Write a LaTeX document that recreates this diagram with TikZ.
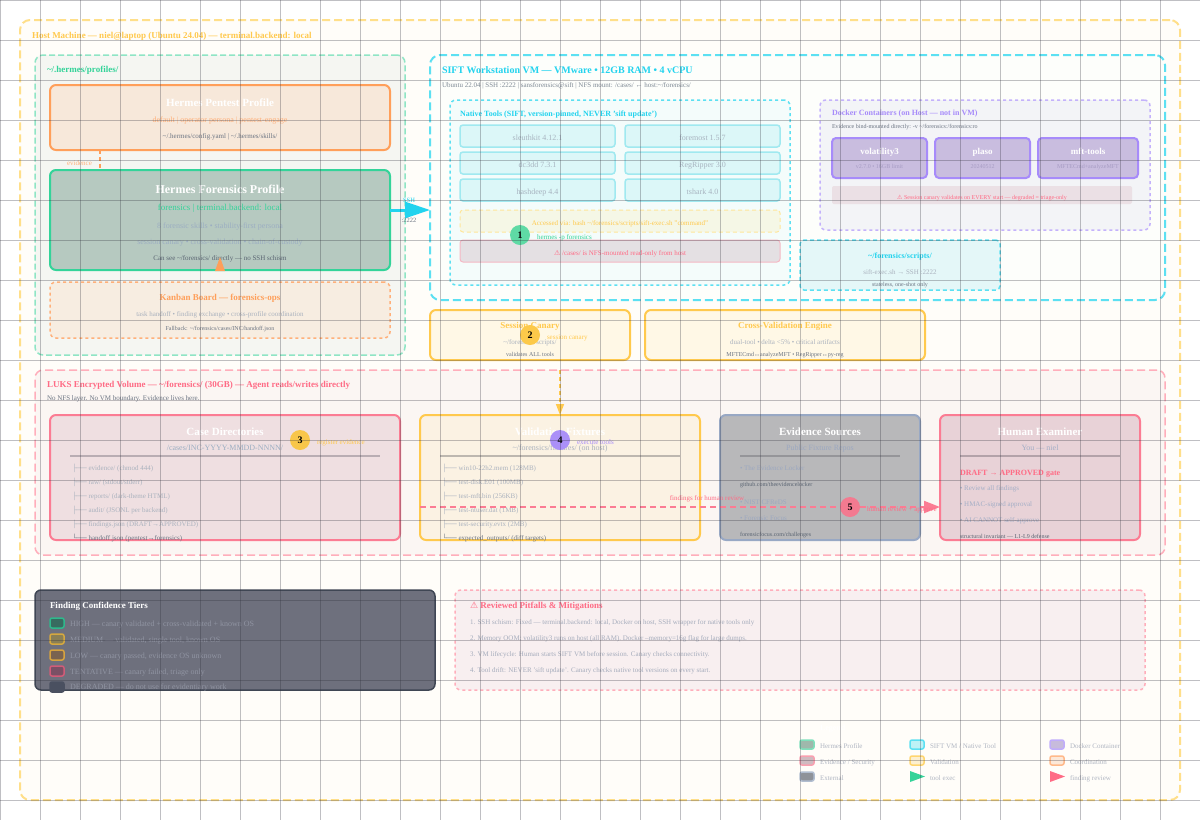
\documentclass[tikz,border=0pt]{standalone}
\usepackage{fontspec}
\setmainfont{Liberation Serif}
\newfontfamily\dejavu{DejaVu Sans}
\usetikzlibrary{arrows.meta}
\def\dc#1#2{\definecolor{#1}{HTML}{#2}}
\def\hx#1{\definecolor{#1}{HTML}{#1}}
\dc{hostfill}{FFFDF9}\dc{hoststroke}{FFDF8A}\dc{hosttext}{FFC94D}
\dc{green}{34D399}\dc{greenlt}{8FE5C5}\dc{orange}{FF9F5A}\dc{orangel}{FFB07A}
\dc{cyan}{22D3EE}\dc{cyanlt}{5CE0F2}\dc{purple}{A78BFA}\dc{purplelt}{C4B2FB}
\dc{pink}{FB7C93}\dc{pinklt}{FFAEBB}\dc{pinktext}{FF6B85}
\dc{yel}{FFC94D}\dc{mutedg}{A8B4C0}\dc{muted}{AAB2BE}\dc{darkg}{6B7482}
\dc{blueg}{9CAEC2}
\hx{F5F6F2}\hx{F7E8DA}\hx{B6C9C0}\hx{5A6472}\hx{F7EDE1}\hx{FDFEFB}\hx{7F8A95}\hx{F4FCFB}\hx{A0E9F0}\hx{DCF7F8}
\hx{FFE69A}\hx{F5F7E6}\hx{F5B8C4}\hx{E4E0E3}\hx{F3F4F7}\hx{C9BDDF}\hx{A79CC4}\hx{EBE0E5}\hx{E4F7F8}\hx{FFF8E6}
\hx{FBF6F3}\hx{EFDFE1}\hx{B9ADB3}\hx{FBF2E3}\hx{BDB7AF}\hx{98A8C4}\hx{B8B8BA}\hx{9CA8C0}\hx{959599}\hx{E8D2D7}
\hx{A3AEC6}\hx{B3A2A9}\hx{5FDAA5}\hx{FCC94A}\hx{F8C64A}\hx{AB90F8}\hx{F37A90}\hx{3F4654}\hx{6E707D}\hx{9094A2}
\hx{2FB88C}\hx{386B60}\hx{D5A83F}\hx{8A7F55}\hx{D6A23F}\hx{7A6350}\hx{D05C78}\hx{7A5065}\hx{4A5060}\hx{F8EFF0}
\hx{A5ACBC}\hx{7FE0BC}\hx{9FB8AC}\hx{B0B6C2}\hx{F9A0B0}\hx{D0BAC0}\hx{B0BDD0}\hx{8E9299}\hx{BEF2F6}
\hx{FFD670}\hx{FDF0D0}\hx{C0ACFB}\hx{C7BBDC}\hx{FFB98A}\hx{FCE8D8}
\dc{gridc}{2E2E3A}
\tikzset{
  x=1pt,y=-1pt,
  box/.style={rounded corners=#1,inner sep=0pt,outer sep=0pt,anchor=north west},
  box/.default=6pt,
  toolbx/.style={box=3pt,draw=A0E9F0,fill=DCF7F8,line width=1.5pt},
  contbx/.style={box=4pt,draw=purple,fill=C9BDDF,line width=2pt},
  dashL/.style={dash pattern=on 8pt off 4pt},
  dashM/.style={dash pattern=on 6pt off 3pt},
  dashS/.style={dash pattern=on 3pt off 3pt},
  reg/.style={font=\fontsize{#1pt}{#1pt}\selectfont},
  bld/.style={font=\fontsize{#1pt}{#1pt}\selectfont\bfseries},
  tl/.style={anchor=base west,inner sep=0pt,outer sep=0pt},
  tc/.style={anchor=base,inner sep=0pt,outer sep=0pt},
  badge/.style={circle,minimum size=20pt,inner sep=0pt,outer sep=0pt,text=black,font=\fontsize{10pt}{10pt}\selectfont\bfseries},
  swatch/.style={box=2pt,line width=1.5pt,minimum width=14pt,minimum height=10pt},
  gridline/.style={line width=1pt,draw=gridc,opacity=.3},
}
\newcommand{\bx}[6]{\node[#6,minimum width=#4pt,minimum height=#5pt] (#1) at (#2,#3) {};}
\newcommand{\tL}[5]{\node[tl,#4] (#1) at (#2,#3) {#5};}
\newcommand{\tC}[5]{\node[tc,#4] (#1) at (#2,#3) {#5};}
\newcommand{\warn}{{\dejavu\char"26A0}}
\begin{document}
\begin{tikzpicture}
\useasboundingbox (0,0) rectangle (1200,820);
\fill[white] (0,0) rectangle (1200,820);
% ---- host
\bx{host}{20}{20}{1160}{780}{box=10pt,draw=hoststroke,fill=hostfill,line width=2pt,dashL}
\tL{hostT}{32}{38}{bld=9,text=hosttext}{Host Machine — niel@laptop (Ubuntu 24.04) — terminal.backend: local}
% ---- profiles
\bx{prof}{35}{55}{370}{300}{box=8pt,draw=greenlt,fill=F5F6F2,line width=1.5pt,dashM}
\tL{profT}{47}{72}{bld=9,text=green}{\textasciitilde/.hermes/profiles/}
\bx{pentest}{50}{85}{340}{65}{box=6pt,draw=orange,fill=F7E8DA,line width=2pt}
\tC{penA}{220}{106}{bld=11,text=white}{Hermes Pentest Profile}
\tC{penB}{220}{122}{reg=8,text=orangel}{default | operator persona | pentest-engage}
\tC{penC}{220}{138}{reg=7,text=darkg}{\textasciitilde/.hermes/config.yaml | \textasciitilde/.hermes/skills/}
\bx{forens}{50}{170}{340}{100}{box=6pt,draw=green,fill=B6C9C0,line width=2pt}
\tC{forA}{220}{193}{bld=12,text=white}{Hermes Forensics Profile}
\tC{forB}{220}{210}{reg=9,text=green}{forensics | terminal.backend: local}
\tC{forC}{220}{228}{reg=8,text=blueg}{8 forensic skills • stability-first persona}
\tC{forD}{220}{244}{reg=8,text=blueg}{session canary • cross-validation • chain-of-custody}
\tC{forE}{220}{260}{reg=7,text=5A6472}{Can see \textasciitilde/forensics/ directly — no SSH schism}
\bx{kanban}{50}{282}{340}{56}{box=6pt,draw=orangel,fill=F7EDE1,line width=1.5pt,dashS}
\tC{kanA}{220}{300}{bld=9,text=orange}{Kanban Board — forensics-ops}
\tC{kanB}{220}{316}{reg=7,text=muted}{task handoff • finding exchange • cross-profile coordination}
\tC{kanC}{220}{330}{reg=6,text=darkg}{Fallback: \textasciitilde/forensics/cases/INC/handoff.json}
% evidence connector and kanban tip
\coordinate (evx) at (100,0);
\draw[orange,line width=2pt,dash pattern=on 4pt off 3pt] (evx |- pentest.south) -- (evx |- forens.north);
\tL{evL}{67}{165}{reg=7,text=orangel}{evidence}
\fill[orange] (220,257) -- (225,271) -- (215,271) -- cycle;
% ---- SIFT
\bx{sift}{430}{55}{735}{245}{box=10pt,draw=cyanlt,fill=FDFEFB,line width=2pt,dashL}
\tL{siftA}{442}{73}{bld=10,text=cyan}{SIFT Workstation VM — VMware • 12GB RAM • 4 vCPU}
\tL{siftB}{442}{87}{reg=7,text=7F8A95}{Ubuntu 22.04 | SSH :2222 | sansforensics@sift | NFS mount: /cases/ ← host:\textasciitilde/forensics/}
\bx{native}{450}{100}{340}{185}{box=6pt,draw=cyanlt,fill=F4FCFB,line width=1.5pt,dashS}
\tL{natT}{460}{116}{bld=8,text=cyan}{Native Tools (SIFT, version-pinned, NEVER 'sift update')}
\bx{t1}{460}{125}{155}{22}{toolbx}\tC{t1L}{537.5}{140}{reg=8,text=mutedg}{sleuthkit 4.12.1}
\bx{t2}{625}{125}{155}{22}{toolbx}\tC{t2L}{702.5}{140}{reg=8,text=mutedg}{foremost 1.5.7}
\bx{t3}{460}{152}{155}{22}{toolbx}\tC{t3L}{537.5}{167}{reg=8,text=mutedg}{dc3dd 7.3.1}
\bx{t4}{625}{152}{155}{22}{toolbx}\tC{t4L}{702.5}{167}{reg=8,text=mutedg}{RegRipper 3.0}
\bx{t5}{460}{179}{155}{22}{toolbx}\tC{t5L}{537.5}{194}{reg=8,text=mutedg}{hashdeep 4.4}
\bx{t6}{625}{179}{155}{22}{toolbx}\tC{t6L}{702.5}{194}{reg=8,text=mutedg}{tshark 4.0}
\bx{acc}{460}{210}{320}{22}{box=3pt,draw=FFE69A,fill=F5F7E6,line width=1pt,dash pattern=on 4pt off 3pt}
\tC{accL}{620}{225}{reg=7,text=hosttext}{Accessed via: bash \textasciitilde/forensics/scripts/sift-exec.sh "command"}
\bx{nfs}{460}{240}{320}{22}{box=3pt,draw=F5B8C4,fill=E4E0E3,line width=1pt}
\tC{nfsL}{620}{255}{reg=7,text=pinktext}{\warn{} /cases/ is NFS-mounted read-only from host}
% docker
\bx{docker}{820}{100}{330}{130}{box=6pt,draw=purplelt,fill=F3F4F7,line width=1.5pt,dashS}
\tL{dokA}{832}{115}{bld=8,text=purple}{Docker Containers (on Host — not in VM)}
\tL{dokB}{832}{128}{reg=6,text=darkg}{Evidence bind-mounted directly: -v \textasciitilde/forensics:/forensics:ro}
\bx{c1}{832}{138}{95}{40}{contbx}\tC{c1A}{879.5}{154}{bld=9,text=white}{volatility3}\tC{c1B}{879.5}{168}{reg=6,text=A79CC4}{v2.7.0 • 16GB limit}
\bx{c2}{935}{138}{95}{40}{contbx}\tC{c2A}{982.5}{154}{bld=9,text=white}{plaso}\tC{c2B}{982.5}{168}{reg=6,text=A79CC4}{20240512}
\bx{c3}{1038}{138}{100}{40}{contbx}\tC{c3A}{1088}{154}{bld=9,text=white}{mft-tools}\tC{c3B}{1088}{168}{reg=6,text=A79CC4}{MFTECmd+analyzeMFT}
\bx{canbar}{832}{186}{300}{18}{box=2pt,fill=EBE0E5}
\tC{canbarL}{982}{199}{reg=6,text=pinktext}{\warn{} Session canary validates on EVERY start — degraded = triage-only}
% scripts
\bx{scripts}{800}{240}{200}{50}{box=4pt,draw=cyanlt,fill=E4F7F8,line width=1.5pt,dash pattern=on 4pt off 3pt}
\tC{scrA}{900}{258}{bld=8,text=cyan}{\textasciitilde/forensics/scripts/}
\tC{scrB}{900}{274}{reg=7,text=muted}{sift-exec.sh → SSH :2222}
\tC{scrC}{900}{286}{reg=6,text=darkg}{stateless, one-shot only}
% ssh arrow
\coordinate (sshy) at (0,210);
\draw[cyan,line width=3pt,-{Triangle[length=25pt,width=16pt]}] (forens.east |- sshy) -- (sift.west |- sshy);
\tC{sshA}{409}{202}{reg=6.5,text=cyan}{SSH}
\tC{sshB}{409}{222}{reg=6.5,text=darkg}{:2222}
% canary + cross
\bx{canary}{430}{310}{200}{50}{box=6pt,draw=yel,fill=FFF8E6,line width=2pt}
\tC{canA}{530}{328}{bld=9,text=yel}{Session Canary}
\tC{canB}{530}{344}{reg=7,text=muted}{\textasciitilde/forensics/scripts/}
\tC{canC}{530}{356}{reg=6,text=darkg}{validates ALL tools}
\bx{cross}{645}{310}{280}{50}{box=6pt,draw=yel,fill=FFF8E6,line width=2pt}
\tC{croA}{785}{328}{bld=9,text=yel}{Cross-Validation Engine}
\tC{croB}{785}{344}{reg=7,text=muted}{dual-tool • delta <5\% • critical artifacts}
\tC{croC}{785}{356}{reg=6,text=darkg}{MFTECmd↔analyzeMFT • RegRipper↔py-reg}
% ---- LUKS
\bx{luks}{35}{370}{1130}{185}{box=8pt,draw=pinklt,fill=FBF6F3,line width=1.5pt,dashL}
\tL{luksA}{47}{387}{bld=9,text=pinktext}{LUKS Encrypted Volume — \textasciitilde/forensics/ (30GB) — Agent reads/writes directly}
\tL{luksB}{47}{400}{reg=7,text=darkg}{No NFS layer. No VM boundary. Evidence lives here.}
% case dirs
\bx{cased}{50}{415}{350}{125}{box=6pt,draw=pink,fill=EFDFE1,line width=2pt}
\tC{casA}{225}{435}{bld=11,text=white}{Case Directories}
\tC{casB}{225}{450}{reg=8,text=blueg}{/cases/INC-YYYY-MMDD-NNNN/}
\draw[B9ADB3,line width=2pt] (70,456) -- (380,456);
\tL{ca1}{72}{470}{reg=7,text=muted}{├── evidence/ (chmod 444)}
\tL{ca2}{72}{484}{reg=7,text=muted}{├── raw/ (stdout/stderr)}
\tL{ca3}{72}{498}{reg=7,text=muted}{├── reports/ (dark-theme HTML)}
\tL{ca4}{72}{512}{reg=7,text=muted}{├── audit/ (JSONL per backend)}
\tL{ca5}{72}{526}{reg=7,text=muted}{├── findings.json (DRAFT→APPROVED)}
\tL{ca6}{72}{540}{reg=7,text=darkg}{└── handoff.json (pentest→forensics)}
% fixtures
\bx{fixt}{420}{415}{280}{125}{box=6pt,draw=yel,fill=FBF2E3,line width=2pt}
\tC{fixA}{560}{435}{bld=11,text=white}{Validation Fixtures}
\tC{fixB}{560}{450}{reg=8,text=muted}{\textasciitilde/forensics/fixtures/ (on host)}
\draw[BDB7AF,line width=2pt] (440,456) -- (680,456);
\tL{fi1}{442}{470}{reg=7,text=muted}{├── win10-22h2.mem (128MB)}
\tL{fi2}{442}{484}{reg=7,text=muted}{├── test-disk.E01 (100MB)}
\tL{fi3}{442}{498}{reg=7,text=muted}{├── test-mft.bin (256KB)}
\tL{fi4}{442}{512}{reg=7,text=muted}{├── test-ntuser.dat (1MB)}
\tL{fi5}{442}{526}{reg=7,text=muted}{├── test-security.evtx (2MB)}
\tL{fi6}{442}{540}{reg=7,text=darkg}{└── expected\_outputs/ (diff targets)}
% evidence sources
\bx{evid}{720}{415}{200}{125}{box=6pt,draw=98A8C4,fill=B8B8BA,line width=2pt}
\tC{eviA}{820}{435}{bld=11,text=white}{Evidence Sources}
\tC{eviB}{820}{450}{reg=8,text=9CA8C0}{Public Fixture Repos}
\draw[959599,line width=2pt] (740,456) -- (900,456);
\tL{ev1}{740}{470}{reg=7,text=9CA8C0}{• The Evidence Locker}
\tL{ev2}{740}{486}{reg=6,text=5A6472}{github.com/theevidencelocker}
\tL{ev3}{740}{504}{reg=7,text=9CA8C0}{• NIST CFReDS}
\tL{ev4}{740}{520}{reg=7,text=9CA8C0}{• Forensic Focus}
\tL{ev5}{740}{536}{reg=6,text=5A6472}{forensicfocus.com/challenges}
% human
\bx{human}{940}{415}{200}{125}{box=6pt,draw=pink,fill=E8D2D7,line width=2pt}
\tC{humA}{1040}{435}{bld=11,text=white}{Human Examiner}
\tC{humB}{1040}{450}{reg=8,text=A3AEC6}{You — niel}
\draw[B3A2A9,line width=2pt] (960,456) -- (1120,456);
\tL{hu1}{960}{475}{bld=8,text=pinktext}{DRAFT → APPROVED gate}
\tL{hu2}{960}{490}{reg=7,text=A3AEC6}{• Review all findings}
\tL{hu3}{960}{506}{reg=7,text=A3AEC6}{• HMAC-signed approval}
\tL{hu4}{960}{522}{reg=7,text=A3AEC6}{• AI CANNOT self-approve}
\tL{hu5}{960}{538}{reg=6,text=5A6472}{structural invariant — L1-L9 defense}
% connectors
\coordinate (canx) at (560,0);
\draw[yel,line width=1.5pt,dash pattern=on 4pt off 3pt,-{Triangle[length=11pt,width=8pt]}] (canx |- luks.north) -- (canx |- fixt.north);
\coordinate (findy) at (0,507);
\draw[pink,line width=2pt,dash pattern=on 6pt off 4pt,-{Triangle[length=16pt,width=12pt]}] (fixt.west |- findy) -- (human.west |- findy);
\tC{findL}{707}{500}{reg=7,text=pinktext}{findings for human review}
% badges
\node[badge,fill=5FDAA5] (b1) at (520,235) {1};
\tL{b1L}{537}{239}{reg=7,text=green}{hermes -p forensics}
\node[badge,fill=FCC94A] (b2) at (530,335) {2};
\tL{b2L}{547}{339}{reg=7,text=yel}{session canary}
\node[badge,fill=F8C64A] (b3) at (300,440) {3};
\tL{b3L}{317}{444}{reg=7,text=yel}{register evidence}
\node[badge,fill=AB90F8] (b4) at (560,440) {4};
\tL{b4L}{577}{444}{reg=7,text=purple}{execute tools}
\node[badge,fill=F37A90] (b5) at (850,507) {5};
\tL{b5L}{867}{511}{reg=7,text=pinktext}{human review + approve}
% ---- tiers
\bx{tiers}{35}{590}{400}{100}{box=6pt,draw=3F4654,fill=6E707D,line width=1.5pt}
\tL{tieT}{50}{608}{bld=9,text=white}{Finding Confidence Tiers}
\bx{s1}{50}{618}{14}{10}{swatch,draw=2FB88C,fill=386B60}\tL{s1L}{70}{626}{reg=8,text=9094A2}{HIGH — canary validated + cross-validated + known OS}
\bx{s2}{50}{634}{14}{10}{swatch,draw=D5A83F,fill=8A7F55}\tL{s2L}{70}{642}{reg=8,text=9094A2}{MEDIUM — validated, single tool, known OS}
\bx{s3}{50}{650}{14}{10}{swatch,draw=D6A23F,fill=7A6350}\tL{s3L}{70}{658}{reg=8,text=9094A2}{LOW — canary passed, evidence OS unknown}
\bx{s4}{50}{666}{14}{10}{swatch,draw=D05C78,fill=7A5065}\tL{s4L}{70}{674}{reg=8,text=9094A2}{TENTATIVE — canary failed, triage only}
\bx{s5}{50}{682}{14}{10}{swatch,draw=4A5060,fill=4A5060}\tL{s5L}{70}{689}{reg=8,text=9094A2}{DEGRADED — do not use for evidentiary work}
% ---- pitfalls
\bx{pitf}{455}{590}{690}{100}{box=6pt,draw=pinklt,fill=F8EFF0,line width=1.5pt,dashS}
\tL{pitT}{470}{608}{bld=9,text=pinktext}{\warn{} Reviewed Pitfalls \& Mitigations}
\tL{pi1}{470}{624}{reg=7,text=A5ACBC}{1. SSH schism: Fixed — terminal.backend: local, Docker on host, SSH wrapper for native tools only}
\tL{pi2}{470}{640}{reg=7,text=A5ACBC}{2. Memory OOM: volatility3 runs on host (all RAM). Docker --memory=16g flag for large dumps.}
\tL{pi3}{470}{656}{reg=7,text=A5ACBC}{3. VM lifecycle: Human starts SIFT VM before session. Canary checks connectivity.}
\tL{pi4}{470}{672}{reg=7,text=A5ACBC}{4. Tool drift: NEVER 'sift update'. Canary checks native tool versions on every start.}
% ---- legend
\tL{legT}{820}{730}{bld=8,text=white}{Legend}
\bx{l1}{800}{740}{14}{9}{swatch,draw=7FE0BC,fill=9FB8AC}\tL{l1L}{820}{748}{reg=7,text=B0B6C2}{Hermes Profile}
\bx{l2}{800}{756}{14}{9}{swatch,draw=F9A0B0,fill=D0BAC0}\tL{l2L}{820}{764}{reg=7,text=B0B6C2}{Evidence / Security}
\bx{l3}{800}{772}{14}{9}{swatch,draw=B0BDD0,fill=8E9299}\tL{l3L}{820}{780}{reg=7,text=B0B6C2}{External}
\bx{l4}{910}{740}{14}{9}{swatch,draw=cyanlt,fill=BEF2F6}\tL{l4L}{930}{748}{reg=7,text=B0B6C2}{SIFT VM / Native Tool}
\bx{l5}{910}{756}{14}{9}{swatch,draw=FFD670,fill=FDF0D0}\tL{l5L}{930}{764}{reg=7,text=B0B6C2}{Validation}
\fill[green] (910,771) -- (925,776.5) -- (910,782) -- cycle;
\tL{l6L}{930}{780}{reg=7,text=B0B6C2}{tool exec}
\bx{l7}{1050}{740}{14}{9}{swatch,draw=C0ACFB,fill=C7BBDC}\tL{l7L}{1070}{748}{reg=7,text=B0B6C2}{Docker Container}
\bx{l8}{1050}{756}{14}{9}{swatch,draw=FFB98A,fill=FCE8D8}\tL{l8L}{1070}{764}{reg=7,text=B0B6C2}{Coordination}
\fill[pinktext] (1050,771) -- (1065,776.5) -- (1050,782) -- cycle;
\tL{l9L}{1070}{780}{reg=7,text=B0B6C2}{finding review}
% ---- grid on top
\foreach \gx in {0,40,...,1200} {\draw[gridline] (\gx,0) -- (\gx,820);}
\foreach \gy in {0,40,...,800} {\draw[gridline] (0,\gy) -- (1200,\gy);}
\end{tikzpicture}
\end{document}
